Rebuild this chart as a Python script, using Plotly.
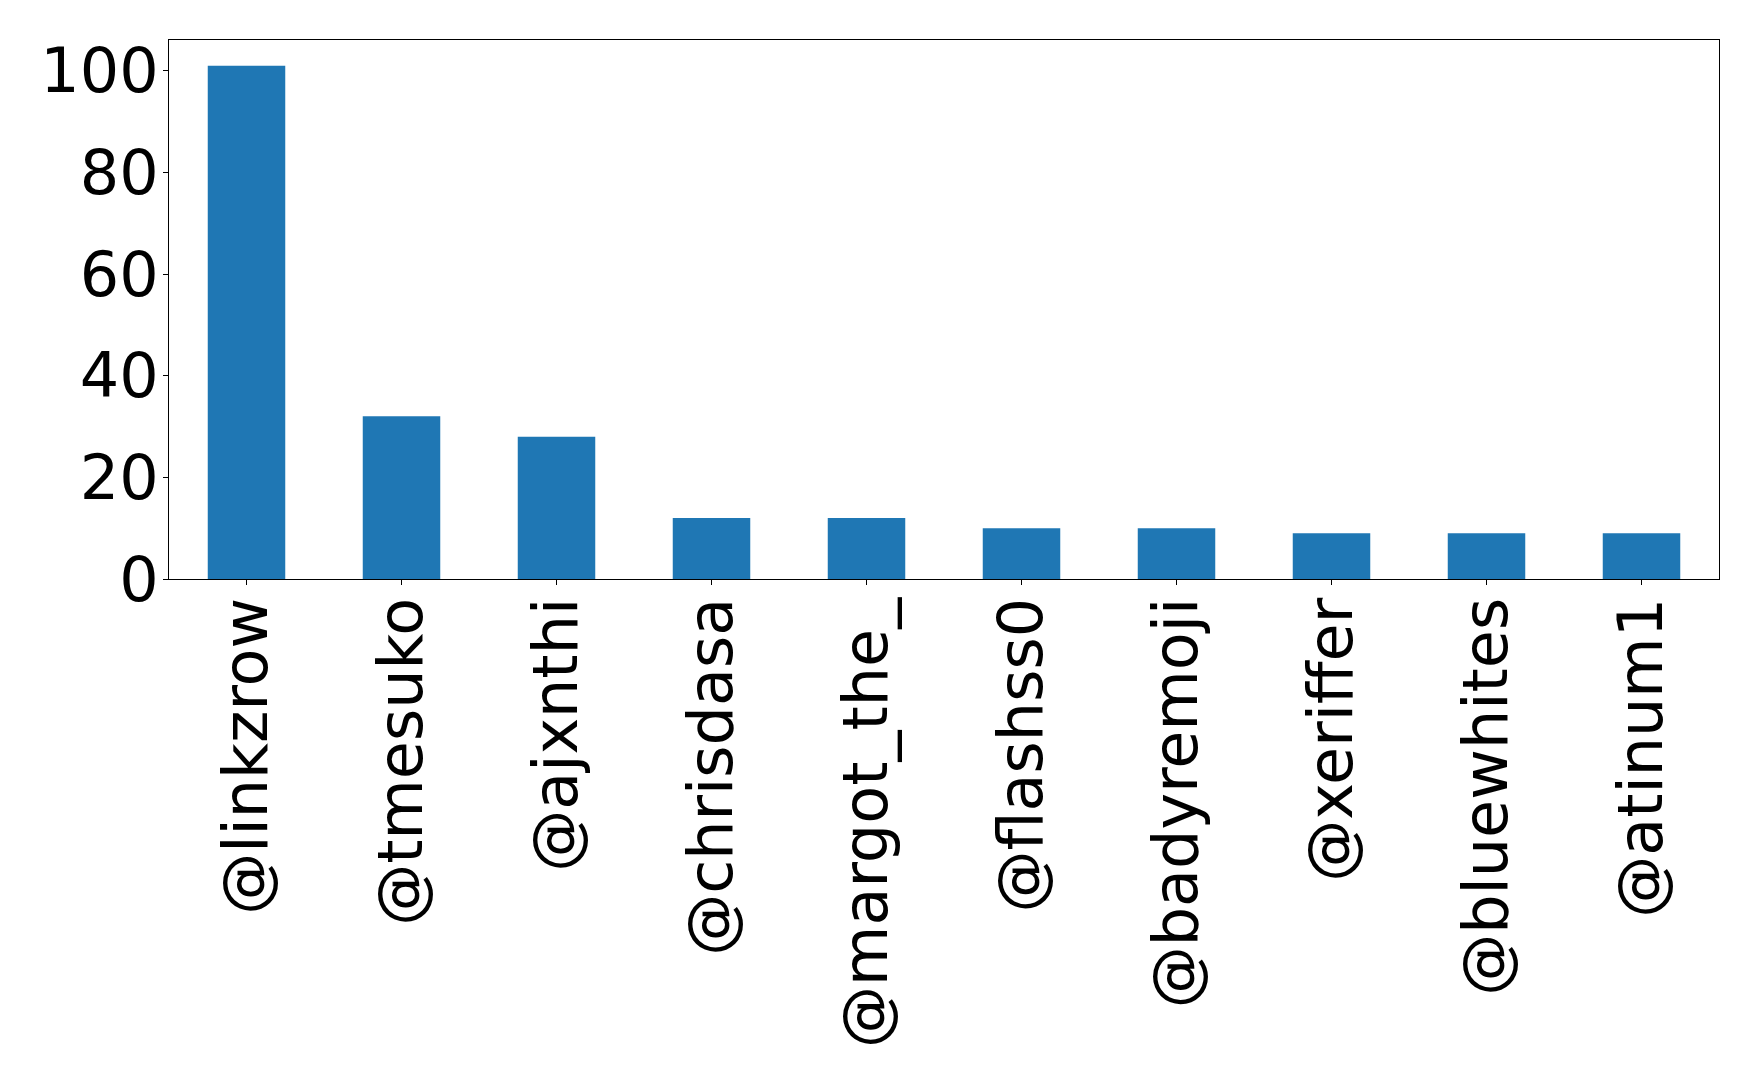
import plotly.graph_objects as go

# top accounts by count
accounts = [
    "@linkzrow",
    "@tmesuko",
    "@ajxnthi",
    "@chrisdasa",
    "@margot_the_",
    "@flashss0",
    "@badyremoji",
    "@xeriffer",
    "@bluewhites",
    "@atinum1",
]
counts = [101, 32, 28, 12, 12, 10, 10, 9, 9, 9]
y_ticks = [0, 20, 40, 60, 80, 100]

fig = go.Figure()
fig.add_trace(go.Bar(x=accounts, y=counts, width=0.5, marker=dict(color="#1f77b4", line=dict(width=0))))

axis_style = dict(
    showline=True,
    linecolor="black",
    linewidth=1,
    mirror=True,
    ticks="outside",
    ticklen=5,
    tickwidth=1,
    tickcolor="black",
    showgrid=False,
    zeroline=False,
    automargin=False,
)
fig.update_xaxes(range=[-0.5, 9.5], tickangle=-90, ticklabelstandoff=-12, **axis_style)
fig.update_yaxes(range=[0, 106.05], tickvals=y_ticks, ticklabelstandoff=-8, **axis_style)

# page body has an 8px margin, so figure is a bit smaller than the window
fig.update_layout(
    width=1750,
    height=1074,
    margin=dict(l=161, r=39, t=32, b=503),
    paper_bgcolor="white",
    plot_bgcolor="white",
    font=dict(family="DejaVu Sans", size=62, color="black"),
    showlegend=False,
)
# fig.show()
fig.write_html("out.html")
